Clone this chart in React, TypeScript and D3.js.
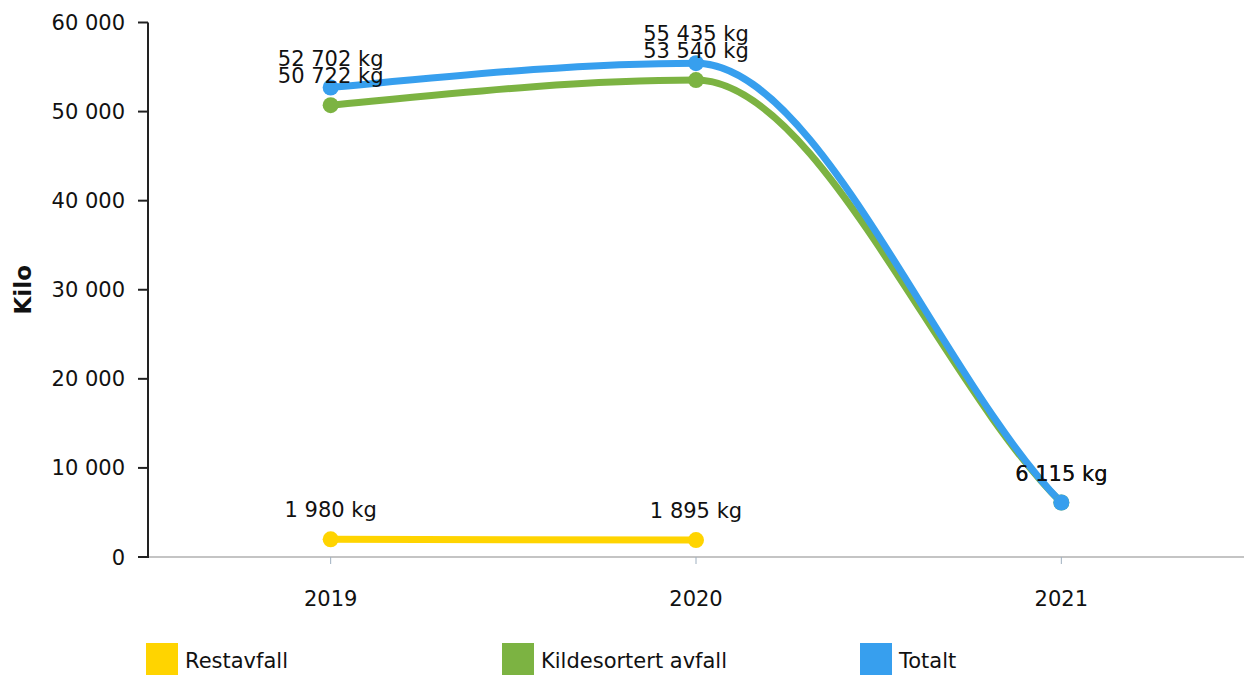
import React from 'react';
import * as d3 from 'd3';

const years = ['2019', '2020', '2021'];
const restavfall = [1980, 1895, null];
const kildesortert = [50722, 53540, 6115];
const totalt = [52702, 55435, 6115];
const yTicks = [0, 10000, 20000, 30000, 40000, 50000, 60000];

const seriesNames = ['Restavfall', 'Kildesortert avfall', 'Totalt'];
const seriesColors = ['#FFD400', '#7CB342', '#379FEE'];

const W = 1244;
const H = 676;
const margin = { top: 22.5, right: 0, bottom: 119, left: 148 };
const font = '"DejaVu Sans", Verdana, sans-serif';

// cubic hermite: monotone tangents inside, secant slope at the ends
function smoothCurve(context: any) {
  let pts: [number, number][] = [];
  return {
    areaStart() {},
    areaEnd() {},
    lineStart() {
      pts = [];
    },
    point(x: number, y: number) {
      pts.push([+x, +y]);
    },
    lineEnd() {
      const n = pts.length;
      if (!n) return;
      context.moveTo(pts[0][0], pts[0][1]);
      if (n === 1) return;
      const s: number[] = [];
      for (let i = 0; i < n - 1; i++) {
        s.push((pts[i + 1][1] - pts[i][1]) / (pts[i + 1][0] - pts[i][0]));
      }
      const m = pts.map((_, i) => {
        if (i === 0) return s[0] * 1.4;
        if (i === n - 1) return s[n - 2] * 0.85;
        const a = s[i - 1];
        const b = s[i];
        if (a * b <= 0) return 0;
        const h0 = pts[i][0] - pts[i - 1][0];
        const h1 = pts[i + 1][0] - pts[i][0];
        const p = (a * h1 + b * h0) / (h0 + h1);
        return Math.sign(a) * Math.min(Math.abs(a), Math.abs(b), 0.5 * Math.abs(p)) * 2;
      });
      for (let i = 0; i < n - 1; i++) {
        const [x0, y0] = pts[i];
        const [x1, y1] = pts[i + 1];
        const dx = (x1 - x0) / 3;
        context.bezierCurveTo(x0 + dx, y0 + m[i] * dx, x1 - dx, y1 - m[i + 1] * dx, x1, y1);
      }
    },
  };
}

const fmt = (v: number) => d3.format(',')(v).replace(/,/g, ' ');

export default function App() {
  const x = d3
    .scalePoint<string>()
    .domain(years)
    .range([margin.left, W - margin.right])
    .padding(0.5);
  const y = d3
    .scaleLinear()
    .domain([0, 60000])
    .range([H - margin.bottom, margin.top]);

  const allSeries = [restavfall, kildesortert, totalt];

  const line = d3
    .line<[string, number | null]>()
    .defined((d) => d[1] != null)
    .x((d) => x(d[0])!)
    .y((d) => y(d[1] as number))
    .curve(smoothCurve as any);

  const y0 = y(0);

  return (
    <svg
      width={W}
      height={H}
      style={{ position: 'absolute', left: 0, top: 0, background: '#fff' }}
      fontFamily={font}
    >
      {/* x axis */}
      <line x1={margin.left} x2={W} y1={y0} y2={y0} stroke="#8a8a8a" strokeWidth={1.2} />
      {years.map((yr) => (
        <g key={yr}>
          <line x1={x(yr)} x2={x(yr)} y1={y0} y2={y0 + 7} stroke="#9fb0c0" strokeWidth={1} />
          <text x={x(yr)} y={606} textAnchor="middle" fontSize={21} fill="#111">
            {yr}
          </text>
        </g>
      ))}

      {/* y axis */}
      <line x1={margin.left} x2={margin.left} y1={y(60000)} y2={y0 + 1} stroke="#222" strokeWidth={2} />
      {yTicks.map((t) => (
        <g key={t}>
          <line x1={margin.left - 10} x2={margin.left} y1={y(t)} y2={y(t)} stroke="#222" strokeWidth={2} />
          <text x={125} y={y(t)} dy="0.36em" textAnchor="end" fontSize={21} fill="#111">
            {fmt(t)}
          </text>
        </g>
      ))}
      <text
        transform={`translate(31,${(y(0) + y(60000)) / 2}) rotate(-90)`}
        textAnchor="middle"
        fontSize={23}
        fontWeight="bold"
        fill="#111"
      >
        Kilo
      </text>

      {/* lines */}
      {allSeries.map((vals, si) => (
        <path
          key={si}
          d={line(years.map((yr, i) => [yr, vals[i]]))!}
          fill="none"
          stroke={seriesColors[si]}
          strokeWidth={7}
          strokeLinecap="round"
        />
      ))}
      {allSeries.map((vals, si) =>
        vals.map((v, i) =>
          v == null ? null : (
            <circle key={`${si}-${i}`} cx={x(years[i])} cy={y(v)} r={8} fill={seriesColors[si]} />
          )
        )
      )}

      {/* data labels */}
      {allSeries.map((vals, si) =>
        vals.map((v, i) =>
          v == null ? null : (
            <text
              key={`l${si}-${i}`}
              x={x(years[i])}
              y={y(v) - 22}
              textAnchor="middle"
              fontSize={21}
              fill="#111"
            >
              {fmt(v)} kg
            </text>
          )
        )
      )}

      {/* legend */}
      {seriesNames.map((name, i) => {
        const lx = [146, 502, 860][i];
        return (
          <g key={name}>
            <rect x={lx} y={643} width={32} height={32} fill={seriesColors[i]} />
            <text x={lx + 39} y={668} fontSize={21} fill="#111">
              {name}
            </text>
          </g>
        );
      })}
    </svg>
  );
}
